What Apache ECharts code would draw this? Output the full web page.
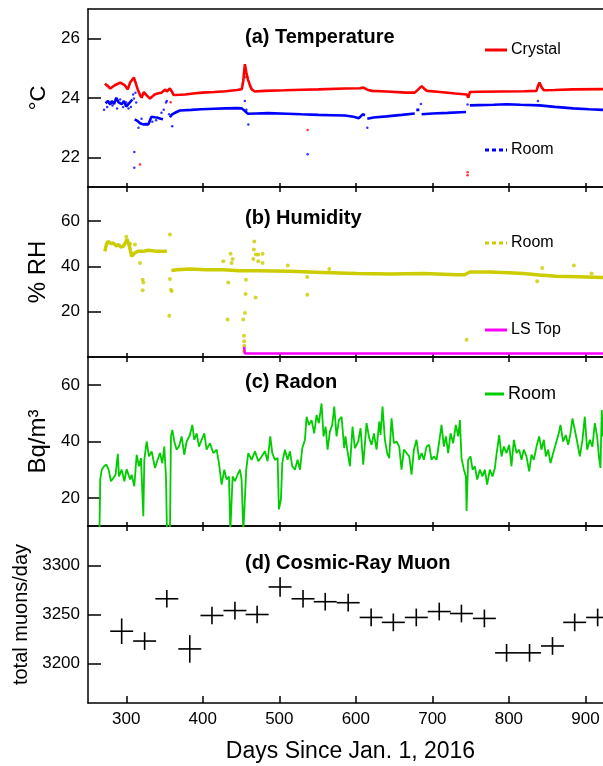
<!DOCTYPE html>
<html>
<head>
<meta charset="utf-8">
<script src="https://cdn.jsdelivr.net/npm/echarts@6/dist/echarts.min.js"></script>
<style>
  html, body { margin: 0; padding: 0; background: #fff; }
  #chart { width: 603px; height: 766px; }
</style>
</head>
<body>
<div id="chart"></div>
<script>
// ---- data (day since Jan 1 2016, value) ----
const xTicks = [300, 400, 500, 600, 700, 800, 900];

// (a) temperature, degC
const crystalTemp = [
  [272,24.48],[276,24.4],[279,24.32],[285,24.43],[292,24.52],[298,24.43],[302,24.29],[305,24.52],
  [310,24.69],[313,24.45],[315,24.29],[318,24.1],[320,24.01],[323,24.2],[327,24.08],[331,23.98],
  [337,24.12],[342,24.16],[346,24.18],[351,24.29],[353,24.22],[355,24.25],[357,24.32],[360,24.2],
  [362,24.1],[370,24.11],[377,24.12],[390,24.16],[400,24.18],[415,24.2],[430,24.23],[445,24.27],
  [451,24.3],[453,24.6],[455,25.14],[457,24.85],[459,24.63],[462,24.4],[464,24.29],[468,24.22],
  [480,24.24],[507,24.26],[530,24.28],[551,24.29],[586,24.32],[605,24.33],[610,24.35],[615,24.28],
  [621,24.24],[640,24.22],[666,24.18],[677,24.18],[682,24.3],[686,24.4],[690,24.3],[693,24.24],
  [710,24.2],[730,24.15],[745,24.12],[747,24.01],[749,24.2],[760,24.21],[790,24.22],[820,24.23],
  [836,24.24],[838,24.4],[840,24.52],[843,24.35],[846,24.26],[860,24.27],[884,24.29],[923,24.3]
];
const crystalOutliers = [[318,21.76],[358,23.86],[537,22.92],[746,21.5],[746,21.4],[455,24.9],[456,24.7]];

const roomTemp = [
  [273,23.82],[276,23.9],[279,23.78],[281,23.9],[284,23.8],[287,24.01],[290,23.85],[294,23.79],
  [297,23.9],[300,23.71],[303,23.8],[305,23.79],[308,23.95],[309,'-'],
  [311,23.28],[315,23.22],[318,23.15],[322,23.11],[326,23.12],[329,23.11],[331,23.25],[333,23.37],
  [337,23.35],[340,23.34],[345,23.3],[348,23.28],[350,'-'],
  [357,23.35],[360,23.45],[365,23.52],[370,23.58],[385,23.6],[398,23.62],[415,23.64],[429,23.65],
  [445,23.66],[451,23.65],[455,23.56],[459,23.47],[470,23.48],[485,23.49],[510,23.47],[529,23.45],
  [551,23.43],[570,23.42],[586,23.41],[597,23.37],[604,23.32],[606,23.34],[609,23.45],[612,23.42],[613,'-'],
  [615,23.3],[623,23.34],[640,23.38],[660,23.43],[677,23.48],[678,'-'],
  [679,23.6],[683,23.6],[684,'-'],
  [686,23.45],[700,23.48],[720,23.5],[744,23.53],[746,'-'],
  [749,23.75],[760,23.76],[780,23.77],[797,23.79],[815,23.77],[840,23.75],[860,23.7],[884,23.65],
  [905,23.62],[923,23.6]
];
const roomTempScatter = [
  [271,23.6],[275,23.7],[282,23.75],[288,23.65],[292,23.95],[296,23.7],[300,23.85],[303,23.65],
  [306,23.7],[309,24.12],[310,23.98],[312,24.18],[310.5,22.18],[310.5,21.65],[313,23.85],[316,23.0],
  [320,23.3],[334,23.2],[339,23.25],[346,23.5],[349,23.6],[352,23.85],[353,23.9],[360,23.05],
  [356,23.45],[455,23.9],[457,23.6],[459.5,23.11],[537,22.1],[615,23.0],[685,23.8],[838,23.9],[746,23.78]
];

// (b) humidity, %RH
const roomRH = [
  [272,46.6],[274,49.5],[276,51],[280,50],[283,50.3],[287,49],[290,49.6],[293,48.5],[296,48.8],
  [299,50.5],[301,52],[304,49.1],[307,44.4],[309,43.8],[311,45.9],[315,46.6],[322,46.6],[329,47.1],
  [340,46.6],[353,46.6],[355,'-'],
  [359,38.2],[366,38.5],[383,38.8],[405,38.5],[427,38.5],[448,38.1],[470,38.1],[514,37.8],[557,37.3],
  [601,36.8],[645,36.6],[688,36.8],[732,36.3],[742,36.3],[749,37.5],[775,37.5],[800,37.2],[819,36.8],
  [840,36.2],[862,35.6],[890,35.4],[923,35.1]
];
const roomRHScatter = [
  [311.4,49.6],[317.9,41.5],[321.4,34.1],[322.3,32.9],[321.4,29.4],[357.1,54],[357.1,34.4],[358.4,29.7],
  [359.3,29.1],[356.2,18.2],[426.8,42.2],[436.3,45.6],[439,43.2],[437.6,41.5],[433.3,32.9],[432.4,16.5],
  [452.9,16.5],[455.1,19.4],[455.9,27.8],[456.4,34.1],[453.8,9.4],[454.2,6.9],[454.2,5],[453.8,2.5],
  [466,43.2],[466.8,47.4],[467.3,51],[469.4,45.2],[472.5,45.2],[478.1,45.6],[472.5,42.2],[478.1,41.5],
  [469,26.3],[511,40.4],[536.5,27.5],[536.5,35.3],[565.3,38.8],[744.7,7.6],[837,33.4],[843.5,39.3],
  [884.9,40.4],[908,36.8],[300,53],[305,50]
];
const lsTopRH = [[454,4.5],[455,1.5],[923,1.5]];

// (c) radon, Bq/m3
const roomRadon = [
  [265,8],[266,26.7],[268,30],[271,31.2],[274,31.8],[277,30],[280,25.9],[283,27],[286,28.2],[289,35.6],
  [290.5,27.6],[294,30],[297.5,25.9],[300.5,30.2],[305,26.5],[307,28.2],[310.5,24.1],[313.6,35.3],
  [316.6,31.2],[319.2,34.1],[322.3,13.5],[323.6,33.5],[326.6,40],[329.7,34.7],[333.2,36.5],[337.5,30.6],
  [341,33.5],[344.1,35.9],[347.1,32.3],[349.7,38.2],[351.9,27.6],[353.2,8],[357.1,8],[358.4,41.8],
  [360.2,44.1],[362.8,40],[365.8,37.1],[368.9,38.2],[372.4,41.8],[375.8,35.3],[378.9,40],[383.2,42.3],
  [386.3,45.9],[388.9,40.6],[392,42.9],[395,38.2],[398.5,40.6],[402,42.9],[405,37.1],[409.4,39.4],
  [413.7,35.9],[418.1,37.1],[421.1,32.3],[424.6,24.7],[428.1,30],[431.1,26.5],[434.2,27.6],[436,8],
  [437.7,8],[439,27.6],[442,25.9],[445.5,28.2],[448.6,30],[450.7,26.5],[453,8],[455.1,8],[456.8,30],
  [459.4,35.9],[463.8,33.5],[468.2,36.5],[472.5,33],[476.9,34.7],[481.2,36.5],[484.7,33],[488.2,41.8],
  [490.8,35.9],[494.3,33.5],[497.8,34.1],[499.5,15.9],[502.1,19.4],[503.9,32.3],[507.3,37.1],[510.8,33.5],
  [513.9,36.5],[516.9,31.2],[520.4,30],[523.9,33.5],[527,30],[530,37.6],[533.5,40.6],[535.6,48.8],
  [538.7,45.9],[542.2,47.6],[545.6,42.9],[548.7,49.4],[551.7,46.5],[555.2,53.5],[557.8,41.8],[560.5,45.3],
  [563.1,37.1],[566.1,43.5],[569.2,45.9],[571.8,52.4],[574.8,41.8],[577.9,47.6],[581.4,48.8],[584.8,37.6],
  [586.5,41.8],[588.8,37.1],[592.3,31.2],[595.7,45.3],[598.8,37.6],[603.1,40],[606.2,44.7],[609.7,31.8],
  [614,46.5],[617.5,41.2],[620.6,38.8],[623.6,42.9],[627.1,37.1],[630.6,47.1],[632.3,42.3],[634.9,52.4],
  [638,40.6],[641,35.9],[643.6,34.1],[646.7,48.2],[649.7,39.4],[653.2,40],[656.7,38.2],[659.7,30],
  [662.8,37.1],[666.3,35.9],[669.8,34.7],[672.8,28.2],[675.9,37.1],[679.3,40.6],[682.8,33.5],[685.9,35.9],
  [688.9,33.5],[692.4,38.2],[695.9,38.8],[698.9,33.5],[702,34.7],[705.5,33.5],[709,40],[712,45.9],
  [715,38.2],[717.7,41.8],[720.7,35.9],[723.8,42.9],[727.2,39.4],[730.7,45.9],[733.8,41.8],[736,47.6],
  [738.1,34.1],[741.2,30],[743.8,27.6],[744.7,15.3],[746.8,33.5],[749.9,34.7],[752.5,30],[755.5,31.2],
  [758.6,26.5],[762.1,30],[765.5,27.6],[768.6,30],[771.6,24.7],[775.1,30],[778.6,27.6],[781.7,30.6],
  [783.8,35.3],[787.3,42.3],[790.4,34.7],[793.4,38.2],[796.9,35.9],[800.4,38.8],[803.4,31.2],[806.5,40.6],
  [810,35.9],[813.5,37.1],[816.5,33.5],[819.5,37.1],[823,34.7],[826.5,29.4],[829.6,35.3],[832.6,33.5],
  [836.1,38.2],[839.6,41.8],[842.6,37.1],[845.7,40.6],[848.3,34.7],[851.3,37.1],[854.4,32.3],[857.9,35.9],
  [862.2,40],[865.7,43.5],[867.4,45.9],[870.9,40],[874.4,42.3],[877.5,38.8],[880.5,42.9],[883.1,48.2],
  [886.2,44.1],[889.2,40],[892.7,34.7],[896.2,40.6],[899.2,48.8],[902.3,37.1],[905.8,40.6],[909.2,38.2],
  [912.3,46.5],[915.3,41.8],[917.9,34.1],[919.7,30.6],[921.4,51.2],[922.7,41.8]
];

// (d) cosmic-ray muon, total muons/day
const muonDays = [294,324,353,383,412,442,471,501,531,560,590,620,649,679,709,738,768,797,827,857,886,916];
const muonRate = [3233,3223,3266,3215,3249,3254,3250,3278,3266,3263,3262,3247,3242,3247,3253,3251,3246,3211,3211,3218,3242,3247];
const muonErr  = [13,9,9,14,9,9,9,10,9,9,9,9,9,9,9,9,9,9,9,9,9,9];
const muonHalfBin = 15;

// ---- chart ----
const FONT = "'Liberation Sans', Arial, Helvetica, sans-serif";
const chart = echarts.init(document.getElementById('chart'), null, { renderer: 'canvas' });

const grids = [
  { left: 88, right: 0, top: 9, height: 178 },
  { left: 88, right: 0, top: 187, height: 170 },
  { left: 88, right: 0, top: 357, height: 169 },
  { left: 88, right: 0, top: 526, height: 177 }
];

const axisLineStyle = { color: '#000', width: 1.5 };

function bottomAxis(i) {
  const last = i === 3;
  return {
    type: 'value', gridIndex: i, position: 'bottom', min: 250, max: 923,
    axisLine: { show: true, onZero: false, lineStyle: axisLineStyle },
    axisTick: { show: true, inside: true, length: last ? 7 : 4, customValues: xTicks, lineStyle: axisLineStyle },
    axisLabel: {
      show: last, customValues: xTicks, fontSize: 17, color: '#000', fontFamily: FONT, margin: 8,
      formatter: (v) => String(v)
    },
    splitLine: { show: false },
    name: last ? 'Days Since Jan. 1, 2016' : '',
    nameLocation: 'middle', nameGap: 37,
    nameTextStyle: { fontSize: 23, color: '#000', fontFamily: FONT, padding: [0, 0, 0, 10] }
  };
}
function topAxis(i) {
  return {
    type: 'value', gridIndex: i, position: 'top', min: 250, max: 923,
    axisLine: { show: true, onZero: false, lineStyle: axisLineStyle },
    axisTick: { show: i > 0, inside: true, length: 5, customValues: xTicks, lineStyle: axisLineStyle },
    axisLabel: { show: false },
    splitLine: { show: false }
  };
}
function yAxis(i, min, max, ticks, name, nameSize, nameGap) {
  return {
    type: 'value', gridIndex: i, min: min, max: max,
    axisLine: { show: true, onZero: false, lineStyle: axisLineStyle },
    axisTick: { show: true, inside: true, length: 13, customValues: ticks, lineStyle: axisLineStyle },
    axisLabel: {
      customValues: ticks, fontSize: 17, color: '#000', fontFamily: FONT, margin: 8,
      formatter: (v) => String(v)
    },
    splitLine: { show: false },
    name: name, nameLocation: 'middle', nameGap: nameGap, nameRotate: 90,
    nameTextStyle: { fontSize: nameSize, color: '#000', fontFamily: FONT }
  };
}

const titleStyle = { fontSize: 20, fontWeight: 'bold', color: '#000', fontFamily: FONT };

function legendItem(y, color, text, dash, size, len) {
  return [
    { type: 'line', shape: { x1: 485, y1: y, x2: 485 + len, y2: y },
      style: { stroke: color, lineWidth: 3, lineDash: dash } },
    { type: 'text', x: 485 + len + 4, y: y,
      style: { text: text, fontSize: size, fontFamily: FONT, fill: '#000', verticalAlign: 'middle' } }
  ];
}

function muonCross(params, api) {
  const x = api.value(0), y = api.value(1), e = api.value(2);
  const c = api.coord([x, y]);
  const l = api.coord([x - muonHalfBin, y]);
  const r = api.coord([x + muonHalfBin, y]);
  const t = api.coord([x, y + e]);
  const b = api.coord([x, y - e]);
  const st = { stroke: '#000', lineWidth: 1.6 };
  return {
    type: 'group',
    children: [
      { type: 'line', shape: { x1: l[0], y1: c[1], x2: r[0], y2: c[1] }, style: st },
      { type: 'line', shape: { x1: c[0], y1: t[1], x2: c[0], y2: b[1] }, style: st }
    ]
  };
}

chart.setOption({
  animation: false,
  backgroundColor: '#fff',
  title: [
    { text: '(a) Temperature', left: 240, top: 22, textStyle: titleStyle },
    { text: '(b) Humidity', left: 240, top: 203, textStyle: titleStyle },
    { text: '(c) Radon', left: 240, top: 367, textStyle: titleStyle },
    { text: '(d) Cosmic-Ray Muon', left: 240, top: 548, textStyle: titleStyle }
  ],
  grid: grids,
  xAxis: [bottomAxis(0), bottomAxis(1), bottomAxis(2), bottomAxis(3),
          topAxis(0), topAxis(1), topAxis(2), topAxis(3)],
  yAxis: [
    yAxis(0, 21, 27, [22, 24, 26], '°C', 22, 38),
    yAxis(1, 0, 75, [20, 40, 60], '% RH', 24, 38),
    yAxis(2, 10, 70, [20, 40, 60], 'Bq/m³', 24, 38),
    yAxis(3, 3160, 3340, [3200, 3250, 3300], 'total muons/day', 20, 50)
  ],
  series: [
    { name: 'Crystal', type: 'line', xAxisIndex: 0, yAxisIndex: 0, data: crystalTemp,
      showSymbol: false, lineStyle: { color: '#ff0000', width: 2.6 } },
    { type: 'scatter', xAxisIndex: 0, yAxisIndex: 0, data: crystalOutliers,
      symbolSize: 2.5, itemStyle: { color: '#ff0000' } },
    { name: 'Room', type: 'line', xAxisIndex: 0, yAxisIndex: 0, data: roomTemp,
      showSymbol: false, lineStyle: { color: '#0000ff', width: 2.6 } },
    { type: 'scatter', xAxisIndex: 0, yAxisIndex: 0, data: roomTempScatter,
      symbolSize: 2.5, itemStyle: { color: '#0000ff' } },

    { name: 'Room RH', type: 'line', xAxisIndex: 1, yAxisIndex: 1, data: roomRH,
      showSymbol: false, lineStyle: { color: '#cccc00', width: 3.5 } },
    { type: 'scatter', xAxisIndex: 1, yAxisIndex: 1, data: roomRHScatter,
      symbolSize: 4, itemStyle: { color: '#cccc00' } },
    { name: 'LS Top', type: 'line', xAxisIndex: 1, yAxisIndex: 1, data: lsTopRH,
      showSymbol: false, lineStyle: { color: '#ff00ff', width: 2.5 } },

    { name: 'Radon', type: 'line', xAxisIndex: 2, yAxisIndex: 2, data: roomRadon,
      showSymbol: false, lineStyle: { color: '#00cc00', width: 1.8 } },

    { name: 'Muon', type: 'custom', xAxisIndex: 3, yAxisIndex: 3,
      data: muonDays.map((d, i) => [d, muonRate[i], muonErr[i]]),
      renderItem: muonCross, encode: { x: 0, y: 1 } }
  ],
  graphic: [
    ...legendItem(50, '#ff0000', 'Crystal', null, 16, 22),
    ...legendItem(150, '#0000ff', 'Room', [4, 3], 16, 22),
    ...legendItem(243, '#cccc00', 'Room', [4, 3], 16, 22),
    ...legendItem(330, '#ff00ff', 'LS Top', null, 16, 22),
    ...legendItem(394, '#00cc00', 'Room', null, 18, 19)
  ]
});
</script>
</body>
</html>
